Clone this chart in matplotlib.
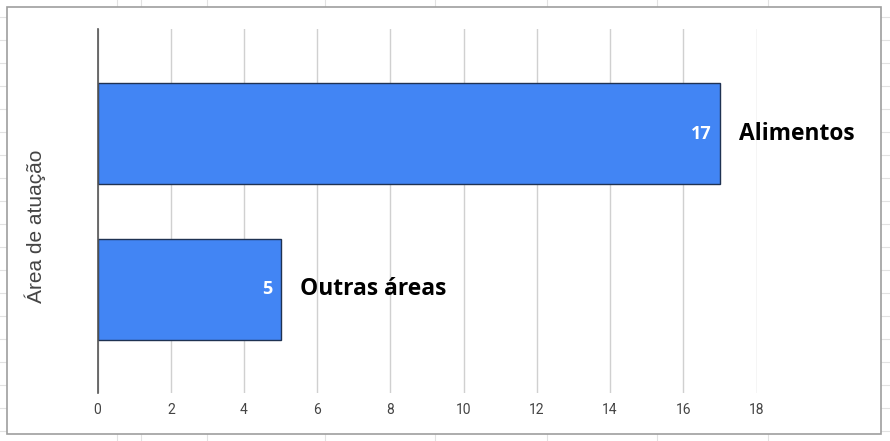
import matplotlib.pyplot as plt
from matplotlib.lines import Line2D
from matplotlib.patches import Rectangle

categories = ["Alimentos", "Outras áreas"]
values = [17, 5]
xticks = [0, 2, 4, 6, 8, 10, 12, 14, 16, 18]
ylabel = "Área de atuação"

W, H = 890, 441
fig = plt.figure(figsize=(W / 100, H / 100), dpi=100)
fig.patch.set_facecolor("white")

# spreadsheet cell lines behind the chart
for x in [117, 141, 207, 325, 435, 547, 657, 768]:
    fig.add_artist(Line2D([x / W, x / W], [0, 1], color="#e2e2e2", lw=0.8, zorder=-3))
for y in range(17, H, 23):
    fig.add_artist(Line2D([0, 1], [1 - y / H, 1 - y / H], color="#e2e2e2", lw=0.8, zorder=-3))
fig.add_artist(Rectangle((7 / W, 1 - 434 / H), (881 - 7) / W, (434 - 7) / H,
                         facecolor="white", edgecolor="#9e9e9e", lw=1.2, zorder=-2))

ax = fig.add_axes([97.6 / W, 48 / H, (756.5 - 97.6) / W, 364 / H])
ax.set_facecolor("none")
pos = list(range(len(categories)))
ax.barh(pos, values, height=0.65, color="#4285f4", edgecolor="#1f3252", lw=1.0, zorder=3)
ax.set_xlim(0, 18)
ax.set_ylim(1.666, -0.675)
ax.set_xticks(xticks)
ax.set_xticklabels([str(t) for t in xticks], family=["Liberation Sans Narrow", "Roboto", "DejaVu Sans"],
                   fontsize=10, color="#444444")
ax.tick_params(axis="x", length=0, pad=7)
ax.set_yticks([])
for s in ["top", "right", "bottom"]:
    ax.spines[s].set_visible(False)
ax.spines["left"].set_color("#555555")
ax.spines["left"].set_linewidth(1.2)
ax.spines["left"].set_zorder(4)
ax.grid(axis="x", color="#d0d0d0", lw=1.0, zorder=0)
ax.set_axisbelow(True)

for p, v, c in zip(pos, values, categories):
    ax.text(v - 0.22, p, str(v), ha="right", va="center", color="white",
            fontsize=13, fontweight="bold", family="Open Sans", zorder=5)
    ax.text(v + 0.53, p, c, ha="left", va="center", color="black",
            fontsize=16.4, fontweight="bold", family="Open Sans", clip_on=False, zorder=5)

fig.text(35 / W, 1 - 226 / H, ylabel, rotation=90, ha="center", va="center",
         fontsize=15, color="#444444", family="Liberation Sans")

fig.savefig("out.png", dpi=100)
